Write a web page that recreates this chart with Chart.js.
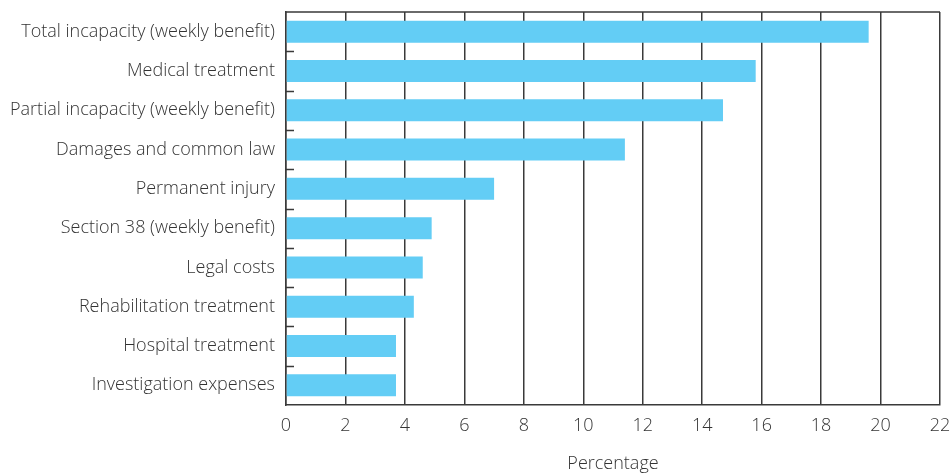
<!DOCTYPE html>
<html>
<head>
<meta charset="utf-8">
<script src="https://cdn.jsdelivr.net/npm/chart.js@4"></script>
<style>
  html, body { margin: 0; padding: 0; background: #fff; }
  #wrap { width: 950px; height: 475px; position: relative; }
</style>
</head>
<body>
<div id="wrap"><canvas id="chart"></canvas></div>
<script>
// data
const categories = [
  'Total incapacity (weekly benefit)',
  'Medical treatment',
  'Partial incapacity (weekly benefit)',
  'Damages and common law',
  'Permanent injury',
  'Section 38 (weekly benefit)',
  'Legal costs',
  'Rehabilitation treatment',
  'Hospital treatment',
  'Investigation expenses'
];
const percentages = [19.6, 15.8, 14.7, 11.4, 7.0, 4.9, 4.6, 4.3, 3.7, 3.7];
const xTicks = [0, 2, 4, 6, 8, 10, 12, 14, 16, 18, 20, 22];
const xTitle = 'Percentage';

const lineColor = '#3a3a3a';
const textColor = '#333333';
const font = { family: 'Open Sans', size: 18, weight: 300 };

// little ticks between categories, plus the top border of the plot
const boundaryTicks = {
  id: 'boundaryTicks',
  afterDraw(chart) {
    const ctx = chart.ctx;
    const y = chart.scales.y;
    const area = chart.chartArea;
    ctx.save();
    ctx.strokeStyle = lineColor;
    ctx.lineWidth = 1.5;
    ctx.beginPath();
    ctx.moveTo(area.left, area.top);
    ctx.lineTo(area.right, area.top);
    for (let i = 0; i < categories.length - 1; i++) {
      const py = Math.round((y.getPixelForValue(i) + y.getPixelForValue(i + 1)) / 2) + 0.5;
      ctx.moveTo(area.left, py);
      ctx.lineTo(area.left + 8, py);
    }
    ctx.stroke();
    ctx.restore();
  }
};

new Chart(document.getElementById('chart'), {
  type: 'bar',
  data: {
    labels: categories,
    datasets: [{
      data: percentages,
      backgroundColor: '#63cdf5',
      barPercentage: 0.56,
      categoryPercentage: 1
    }]
  },
  options: {
    indexAxis: 'y',
    responsive: true,
    maintainAspectRatio: false,
    animation: false,
    layout: { padding: { top: 12, right: 10, left: 0, bottom: 0 } },
    plugins: { legend: { display: false }, tooltip: { enabled: false } },
    scales: {
      x: {
        min: 0,
        max: 22,
        afterBuildTicks: (scale) => { scale.ticks = xTicks.map(v => ({ value: v })); },
        afterFit: (scale) => {
          scale.height = 70;
          scale.paddingLeft = 0;
          scale.paddingRight = 0;
        },
        grid: { color: lineColor, lineWidth: 1.5, drawTicks: false },
        border: { color: lineColor, width: 1.5 },
        ticks: { color: textColor, font: font, padding: 10 },
        title: { display: true, text: xTitle, color: textColor, font: font, padding: { top: 10, bottom: 0 } }
      },
      y: {
        grid: { display: false, drawTicks: false },
        border: { color: lineColor, width: 1.5 },
        ticks: { color: textColor, font: font, padding: 11, autoSkip: false },
        afterFit: (scale) => {
          scale.width = 286;
          scale.paddingTop = 0;
          scale.paddingBottom = 0;
        }
      }
    }
  },
  plugins: [boundaryTicks]
});
</script>
</body>
</html>
